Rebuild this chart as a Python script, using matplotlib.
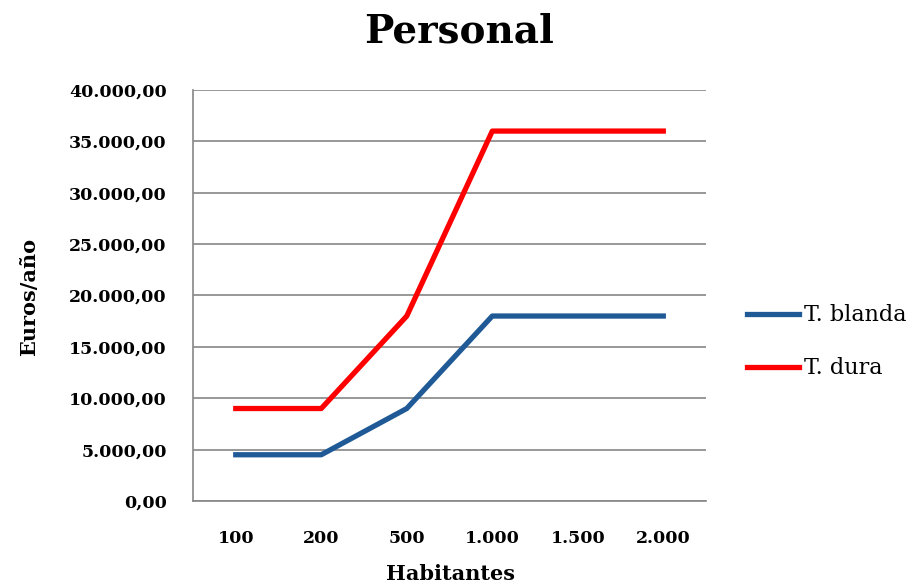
import matplotlib.pyplot as plt
from matplotlib.ticker import FuncFormatter

# data
habitantes = ['100', '200', '500', '1.000', '1.500', '2.000']
blanda = [4500, 4500, 9000, 18000, 18000, 18000]
dura = [9000, 9000, 18000, 36000, 36000, 36000]
yticks = [0, 5000, 10000, 15000, 20000, 25000, 30000, 35000, 40000]

plt.rcParams['font.family'] = ['DejaVu Serif', 'Liberation Serif']

fig = plt.figure(figsize=(9.24, 5.85), dpi=100)
ax = fig.add_axes([0.2089, 0.1436, 0.5552, 0.7026])

x = range(len(habitantes))
ax.plot(x, blanda, color='#1F5A96', lw=3.8, label='T. blanda', solid_joinstyle='round')
ax.plot(x, dura, color='#FF0000', lw=3.8, label='T. dura', solid_joinstyle='round')

ax.set_xlim(-0.5, len(habitantes) - 0.5)
ax.set_ylim(0, 40000)
ax.set_yticks(yticks)
ax.yaxis.set_major_formatter(FuncFormatter(
    lambda v, p: '{:,.2f}'.format(v).replace(',', 'X').replace('.', ',').replace('X', '.')))
ax.set_xticks(list(x))
ax.set_xticklabels(habitantes)
ax.tick_params(length=0, labelsize=12.5)
ax.tick_params(axis='x', pad=21)
ax.tick_params(axis='y', pad=19)
for lab in ax.get_xticklabels() + ax.get_yticklabels():
    lab.set_fontweight('bold')

ax.grid(axis='y', color='#868686', lw=1.2)
ax.set_axisbelow(True)
for s in ['top', 'right']:
    ax.spines[s].set_visible(False)
for s in ['left', 'bottom']:
    ax.spines[s].set_color('#868686')
    ax.spines[s].set_linewidth(1.2)

ax.set_ylabel('Euros/año', fontsize=15, fontweight='bold')
ax.yaxis.set_label_coords(-0.300, 0.496)
ax.set_xlabel('Habitantes', fontsize=15, fontweight='bold')
ax.xaxis.set_label_coords(0.501, -0.153)
fig.text(0.497, 0.947, 'Personal', ha='center', va='center', fontsize=28, fontweight='bold')

ax.legend(loc='center left', bbox_to_anchor=(1.041, 0.387), frameon=False, fontsize=16,
          handlelength=2.35, handletextpad=0.2, labelspacing=1.4)

fig.savefig('out.png', dpi=100)
